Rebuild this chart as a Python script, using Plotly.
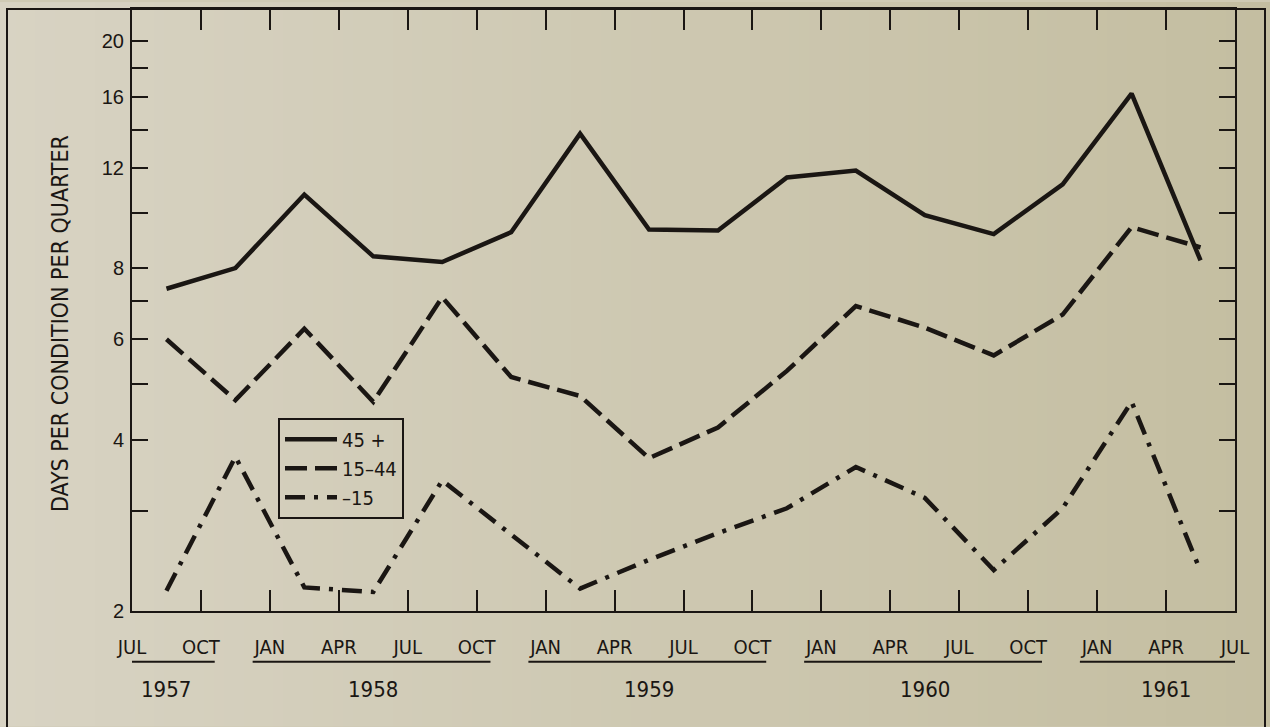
import math
import zlib
import struct
import base64
import plotly.graph_objects as go

# ---- data ----
boundary_labels = ["JUL", "OCT", "JAN", "APR", "JUL", "OCT", "JAN", "APR", "JUL",
                   "OCT", "JAN", "APR", "JUL", "OCT", "JAN", "APR", "JUL"]
years = ["1957", "1958", "1959", "1960", "1961"]
year_first_idx = [0, 2, 6, 10, 14]
year_last_idx = [1, 5, 9, 13, 16]

quarters = ["1957 Q3", "1957 Q4", "1958 Q1", "1958 Q2", "1958 Q3", "1958 Q4",
            "1959 Q1", "1959 Q2", "1959 Q3", "1959 Q4", "1960 Q1", "1960 Q2",
            "1960 Q3", "1960 Q4", "1961 Q1", "1961 Q2"]
age_45_plus = [7.36, 8.0, 10.77, 8.39, 8.2, 9.25, 13.78, 9.35, 9.31, 11.54,
               11.87, 9.91, 9.18, 11.22, 16.2, 8.25]
age_15_44 = [6.0, 4.69, 6.26, 4.66, 7.11, 5.15, 4.77, 3.71, 4.2, 5.28,
             6.86, 6.29, 5.62, 6.63, 9.44, 8.7]
age_under_15 = [2.17, 3.73, 2.2, 2.16, 3.39, 2.73, 2.19, 2.46, 2.74, 3.03,
                3.58, 3.16, 2.36, 3.03, 4.66, 2.35]

y_tick_vals = [2, 3, 4, 5, 6, 7, 8, 10, 12, 14, 16, 18, 20]
y_tick_text = ["2", "", "4", "", "6", "", "8", "", "12", "", "16", "", "20"]
grid_values = [4, 6, 8, 12]

# ---- styling ----
BG = "#cfcab4"
INK = "#1a1613"
NARROW = "Liberation Sans Narrow, DejaVu Sans Condensed, Liberation Sans, sans-serif"
SANS = "Liberation Sans, Arial, sans-serif"


def gradient_png(c_left, c_right, w=128):
    row = b"\x00"
    for i in range(w):
        t = i / (w - 1)
        row += bytes(int(round(a + (b - a) * t)) for a, b in zip(c_left, c_right))
    def chunk(tag, data):
        return (struct.pack(">I", len(data)) + tag + data +
                struct.pack(">I", zlib.crc32(tag + data) & 0xffffffff))
    raw = (b"\x89PNG\r\n\x1a\n" +
           chunk(b"IHDR", struct.pack(">IIBBBBB", w, 1, 8, 2, 0, 0, 0)) +
           chunk(b"IDAT", zlib.compress(row)) + chunk(b"IEND", b""))
    return "data:image/png;base64," + base64.b64encode(raw).decode()


x_mid = [i + 0.5 for i in range(len(quarters))]

fig = go.Figure()
fig.add_trace(go.Scatter(x=x_mid, y=age_45_plus, mode="lines", name="45 +",
                         text=quarters, line=dict(color=INK, width=4.5)))
fig.add_trace(go.Scatter(x=x_mid, y=age_15_44, mode="lines", name="15–44",
                         text=quarters, line=dict(color=INK, width=4.5, dash="22px,8px")))
fig.add_trace(go.Scatter(x=x_mid, y=age_under_15, mode="lines", name="–15",
                         text=quarters, line=dict(color=INK, width=4.5, dash="20px,9px,4px,9px")))

# plot area is 1103 x 604 px, offset (132, 7) in a 1270 x 727 figure
PW, PH, L, T = 1103.0, 604.0, 132.0, 7.0


def px_x(p):
    return (p - L) / PW


def px_y(p):
    return (T + PH - p) / PH


shapes = []
for g in grid_values:
    shapes.append(dict(type="line", xref="paper", x0=0, x1=1, yref="y",
                       y0=math.log10(g), y1=math.log10(g),
                       line=dict(color=INK, width=1.6), layer="below"))
# outer frame around the whole figure
shapes.append(dict(type="rect", xref="paper", yref="paper",
                   x0=px_x(7), x1=px_x(1265), y0=px_y(760), y1=1.0,
                   line=dict(color=INK, width=2)))
annotations = []
for yr, a, b in zip(years, year_first_idx, year_last_idx):
    shapes.append(dict(type="line", xref="x", yref="paper",
                       x0=a - 0.25, x1=b + 0.2, y0=px_y(662), y1=px_y(662),
                       line=dict(color=INK, width=2)))
    annotations.append(dict(x=(a + b) / 2, y=px_y(690), xref="x", yref="paper",
                            text=yr, showarrow=False, xanchor="center", yanchor="middle",
                            font=dict(family=NARROW, size=22, color=INK)))
annotations.append(dict(x=px_x(60), y=px_y(323), xref="paper", yref="paper",
                        text="DAYS PER CONDITION PER QUARTER", textangle=-90,
                        showarrow=False, xanchor="center", yanchor="middle",
                        font=dict(family=NARROW, size=23, color=INK)))

fig.update_layout(
    width=1270, height=727,
    margin=dict(l=132, r=35, t=7, b=116),
    paper_bgcolor=BG, plot_bgcolor="rgba(0,0,0,0)",
    images=[dict(source=gradient_png((216, 211, 195), (196, 190, 161)),
                 xref="paper", yref="paper", x=px_x(0), y=px_y(0),
                 sizex=1270 / PW, sizey=727 / PH, sizing="stretch",
                 xanchor="left", yanchor="top", layer="below")],
    showlegend=True,
    legend=dict(x=px_x(278), y=px_y(417), xanchor="left", yanchor="top",
                bgcolor="rgba(0,0,0,0)", bordercolor=INK, borderwidth=2,
                font=dict(family=NARROW, size=20, color=INK),
                tracegroupgap=0, itemwidth=52),
    shapes=shapes, annotations=annotations,
    xaxis=dict(range=[0, 16], tickmode="array", tickvals=list(range(17)),
               ticktext=boundary_labels, ticks="inside", ticklen=21, tickwidth=2,
               tickcolor=INK, showline=True, linecolor=INK, linewidth=2,
               mirror="ticks", showgrid=False, zeroline=False,
               ticklabelstandoff=17,
               tickfont=dict(family=NARROW, size=20, color=INK)),
    yaxis=dict(type="log", range=[math.log10(2), 1.358], tickmode="array",
               tickvals=y_tick_vals, ticktext=y_tick_text,
               ticks="inside", ticklen=16, tickwidth=2, tickcolor=INK,
               showline=True, linecolor=INK, linewidth=2, mirror="ticks",
               showgrid=False, zeroline=False, ticklabelstandoff=2,
               tickfont=dict(family=SANS, size=20, color=INK)),
)

fig.write_html("out.html", config={"displayModeBar": False},
               post_script="document.body.style.margin='0';")
